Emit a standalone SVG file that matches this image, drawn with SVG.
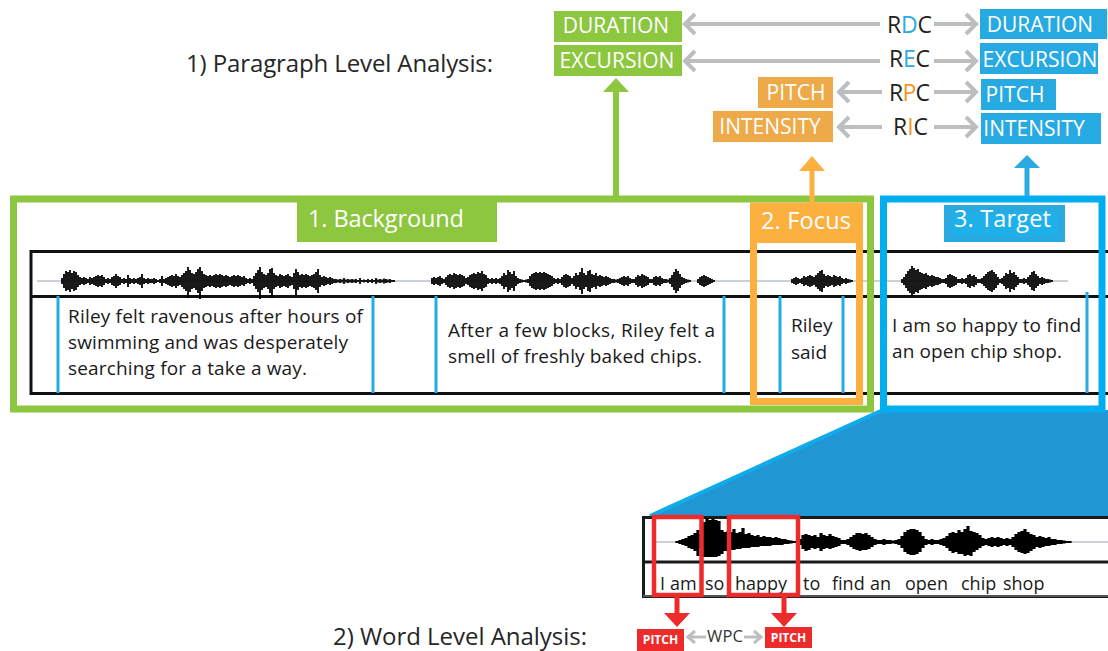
<svg xmlns="http://www.w3.org/2000/svg" width="1108" height="651" viewBox="0 0 1108 651">
<defs>
<style>
.f{font-family:"Open Sans","Noto Sans","DejaVu Sans",sans-serif}
.lbl{font-family:"Open Sans","Noto Sans","DejaVu Sans",sans-serif;fill:#fff;font-size:21px;text-anchor:middle}
.hdr{font-family:"Open Sans","Noto Sans","DejaVu Sans",sans-serif;fill:#fff;font-size:23.5px}
.body{font-family:"Open Sans","Noto Sans","DejaVu Sans",sans-serif;fill:#1a1a1a;font-size:19px}
.zw{font-family:"Open Sans","Noto Sans","DejaVu Sans",sans-serif;fill:#1a1a1a;font-size:18px}
.ttl{font-family:"Open Sans","Noto Sans","DejaVu Sans",sans-serif;fill:#262626;font-size:24px}
.cl{font-family:"Open Sans","Noto Sans","DejaVu Sans",sans-serif;fill:#231f20;font-size:23px}
.gl{stroke:#bcbec0;stroke-width:4;fill:none}
.gs{stroke:#bcbec0;stroke-width:3;fill:none}
.green{fill:#8dc63f}.orange{fill:#eea948}.blue{fill:#27aae1}
.wv{stroke:#000;stroke-width:1.8;fill:none}
.wz{stroke:#000;stroke-width:3.2;fill:none}
.div{stroke:#29abe2;stroke-width:3}
.blk{stroke:#111;stroke-width:3;fill:none}
.red{fill:#ee2b2b}
</style>
<marker id="chev" markerUnits="userSpaceOnUse" markerWidth="16" markerHeight="26" viewBox="0 0 16 26" refX="12" refY="12" orient="auto" overflow="visible">
<path d="M1,2 L11,12 L1,22" fill="none" stroke="#bcbec0" stroke-width="4"/>
</marker>
<marker id="chevs" markerUnits="userSpaceOnUse" markerWidth="12" markerHeight="16" viewBox="0 0 12 16" refX="9" refY="7" orient="auto" overflow="visible">
<path d="M1,1 L8,7 L1,13" fill="none" stroke="#bcbec0" stroke-width="3"/>
</marker>
</defs>
<rect width="1108" height="651" fill="#fff"/>

<g id="title-paragraph"><text class="ttl" x="186" y="72" textLength="307">1) Paragraph Level Analysis:</text></g>
<g id="title-word"><text class="ttl" x="333" y="645" textLength="254">2) Word Level Analysis:</text></g>

<g id="bg-duration"><rect class="green" x="554" y="11" width="128" height="31"/><text class="lbl" x="616" y="33">DURATION</text></g>
<g id="bg-excursion"><rect class="green" x="554" y="45" width="128" height="31"/><text class="lbl" x="617" y="68">EXCURSION</text></g>
<g id="focus-pitch"><rect class="orange" x="758" y="77" width="75" height="31"/><text class="lbl" x="796" y="100">PITCH</text></g>
<g id="focus-intensity"><rect class="orange" x="713" y="111" width="120" height="31"/><text class="lbl" x="770" y="134">INTENSITY</text></g>
<g id="target-duration"><rect class="blue" x="980" y="9" width="127" height="30"/><text class="lbl" x="1040" y="32">DURATION</text></g>
<g id="target-excursion"><rect class="blue" x="980" y="43" width="118" height="31"/><text class="lbl" x="1040" y="67">EXCURSION</text></g>
<g id="target-pitch"><rect class="blue" x="981" y="79" width="75" height="31"/><text class="lbl" x="1015" y="102">PITCH</text></g>
<g id="target-intensity"><rect class="blue" x="981" y="113" width="120" height="31"/><text class="lbl" x="1034" y="136">INTENSITY</text></g>

<g id="waveform-strip">
<line x1="31" y1="251.5" x2="1108" y2="251.5" class="blk"/>
<line x1="31" y1="296.5" x2="1108" y2="296.5" class="blk"/>
<line x1="31" y1="393.5" x2="1108" y2="393.5" class="blk" stroke-width="3.5"/>
<line x1="31" y1="250" x2="31" y2="395" class="blk"/>
<line x1="37" y1="281" x2="1068" y2="281" stroke="#7d8c99" stroke-width="0.8"/>
<g transform="translate(0,281)">
<path class="wv" d="M62-3v6M64-7v14M66-10v20M68-9v18M70-11v22M72-8v16M74-10v20M76-9v18M78-6v12M80-4v8M82-3v6M84-4v8M86-3v6M88-2v4M90-4v8M92-3v6M94-4v8M96-5v10M98-6v12M100-5v10M102-6v12M104-4v8M106-2v4M108-3v6M110-2v4M112-4v8M114-5v10M116-7v14M118-5v10M120-4v8M122-2v4M124-3v6M126-2v4M128-6v12M130-3v6M132-2v4M134-3v6M136-2v4M138-3v6M140-4v8M142-7v14M144-3v6M146-2v4M148-3v6M150-2v4M152-2v4M154-3v6M156-2v4M158-1v2M160-2v4M162-5v10M164-2v4M166-3v6M168-4v8M170-5v10M172-6v12M174-5v10M176-7v14M178-5v10M180-4v8M182-6v12M184-8v16M186-10v20M188-14v31M190-11v22M192-8v16M194-7v14M196-9v18M198-12v24M200-14v32M202-10v20M204-7v14M206-6v12M208-5v10M210-6v12M212-5v10M214-6v12M216-7v14M218-6v12M220-7v14M222-6v12M224-5v10M226-6v12M228-5v10M230-4v8M232-5v10M234-6v12M236-5v10M238-6v12M240-5v10M242-4v8M244-5v10M246-3v6M248-2v4M250-3v6M252-2v4M254-5v10M256-8v16M258-11v22M260-14v32M262-9v18M264-7v14M266-6v12M268-8v16M270-12v24M272-13v30M274-8v16M276-6v12M278-5v10M280-7v14M282-6v12M284-5v10M286-6v12M288-7v14M290-5v10M292-4v8M294-8v16M296-12v26M298-9v18M300-6v12M302-7v14M304-6v12M306-7v14M308-6v12M310-5v10M312-6v12M314-7v14M316-9v18M318-12v24M320-6v12M322-4v8M324-5v10M326-4v8M328-3v6M330-4v8M332-3v6M334-2v4M336-2v4M338-1.5v3M340-2v4M342-1.5v3M344-3v6M346-1.5v3M348-2v4M350-1.5v3M352-2v4M354-1.5v3M356-2v4M358-1v2M360-3v6M362-1v2M364-1.5v3M366-1v2M368-2v4M370-1v2M372-2v4M374-1v2M376-3v6M378-1.5v3M380-2v4M382-1.5v3M384-2.5v5M386-2v4M388-1.5v3M390-2v4M392-1v2M394-1v2"/>
<path class="wv" d="M432-3v6M434-4v8M436-3v6M438-4v8M440-5v10M442-3v6M444-2v4M446-4v8M448-6v12M450-7v14M452-6v12M454-8v16M456-7v14M458-6v12M460-7v14M462-6v12M464-5v10M466-3v6M468-4v8M470-6v12M472-7v14M474-8v16M476-7v14M478-9v18M480-8v16M482-10v20M484-7v14M486-6v12M488-3v6M490-2v4M492-3v6M494-2v4M496-3v6M498-2v4M500-3v6M502-5v10M504-8v16M506-6v12M508-11v22M510-9v18M512-7v14M514-10v20M516-5v10M518-3v6M520-2v4M522-1.5v3M524-1v2M526-1.5v3M528-2v4M530-5v10M532-7v14M534-8v16M536-9v18M538-8v16M540-9v18M542-8v16M544-9v18M546-8v16M548-7v14M550-6v12M552-5v10M554-3v6M556-2v4M558-3v6M560-2v4M562-4v8M564-6v12M566-7v14M568-6v12M570-5v10M572-3v6M574-5v10M576-8v16M578-6v12M580-9v18M582-13v26M584-8v16M586-6v12M588-10v20M590-11v22M592-7v14M594-6v12M596-8v16M598-5v10M600-6v12M602-5v10M604-4v8M606-5v10M608-4v8M610-3v6M612-2v4M614-2v4M616-1.5v3M618-2v4M620-3v6M622-4v8M624-5v10M626-4v8M628-5v10M630-3v6M632-2v4M634-2v4M636-4v8M638-6v12M640-5v10M642-7v14M644-6v12M646-5v10M648-4v8M650-2v4M652-2v4M654-4v8M656-5v10M658-4v8M660-5v10M662-3v6M664-2v4M666-2v4M668-1.5v3M670-3v6M672-6v12M674-9v18M676-12v24M678-10v20M680-7v14M682-4v8M684-3v6M686-2v4M688-1.5v3M690-1v2M698-2v4M700-4v8M702-5v10M704-6v12M706-5v10M708-4v8M710-3v6M712-2v4M714-1v2"/>
<path class="wv" d="M792-2v4M794-3v6M796-4v8M798-3v6M800-2v4M802-3v6M804-5v10M806-4v8M808-5v10M810-6v12M812-5v10M814-4v8M816-6v12M818-8v16M820-10v20M822-11v22M824-7v14M826-5v10M828-6v12M830-5v10M832-4v8M834-6v12M836-5v10M838-4v8M840-5v10M842-3v6M844-2v4M846-3v6M848-2v4M850-1.5v3M852-1v2"/>
<path class="wv" d="M902-2v4M904-4v8M906-7v14M908-10v20M910-12v24M912-15v30M914-13v26M916-11v22M918-12v24M920-9v18M922-8v16M924-7v14M926-8v16M928-6v12M930-5v10M932-6v12M934-5v10M936-4v8M938-4v8M940-3v6M942-2v4M944-2v4M946-3v6M948-6v12M950-7v14M952-6v12M954-5v10M956-4v8M958-2v4M960-2v4M962-3v6M964-2v4M966-3v6M968-6v12M970-7v14M972-5v10M974-6v12M976-4v8M978-2v4M980-2v4M982-3v6M984-5v10M986-7v14M988-9v18M990-10v20M992-11v22M994-9v18M996-7v14M998-4v8M1000-2v4M1002-3v6M1004-5v10M1006-8v16M1008-7v14M1010-11v22M1012-8v16M1014-9v18M1016-6v12M1018-4v8M1020-2v4M1022-2v4M1024-3v6M1026-2v4M1028-4v8M1030-6v12M1032-9v18M1034-10v20M1036-7v14M1038-5v10M1040-3v6M1042-4v8M1044-3v6M1046-2v4M1048-2v4M1050-1.5v3M1052-1v2"/>
</g>
<line class="div" x1="58" y1="296" x2="58" y2="393"/>
<line class="div" x1="373" y1="296" x2="373" y2="393"/>
<line class="div" x1="436" y1="296" x2="436" y2="393"/>
<line class="div" x1="724" y1="296" x2="724" y2="393"/>
<line class="div" x1="780" y1="296" x2="780" y2="393"/>
<line class="div" x1="843" y1="296" x2="843" y2="393"/>
<line class="div" x1="1087" y1="292" x2="1087" y2="393"/>
<text class="body" x="68" y="323" textLength="295">Riley felt ravenous after hours of</text>
<text class="body" x="68" y="349" textLength="280">swimming and was desperately</text>
<text class="body" x="68" y="375" textLength="239">searching for a take a way.</text>
<text class="body" x="448" y="337" textLength="267">After a few blocks, Riley felt a</text>
<text class="body" x="448" y="363" textLength="254">smell of freshly baked chips.</text>
<text class="body" x="791" y="332">Riley</text>
<text class="body" x="791" y="359">said</text>
<text class="body" x="892" y="332" textLength="189">I am so happy to find</text>
<text class="body" x="892" y="358" textLength="170">an open chip shop.</text>
</g>

<g id="background-frame">
<rect x="13.5" y="199" width="857" height="210" fill="none" stroke="#8dc63f" stroke-width="7"/>
<rect class="green" x="297" y="201" width="200" height="41"/>
<text class="hdr" x="308" y="227" textLength="156">1. Background</text>
</g>

<g id="focus-frame">
<rect x="753.5" y="206" width="106" height="195.5" fill="none" stroke="#fbb040" stroke-width="7"/>
<rect x="750" y="203" width="113" height="40" fill="#fbb040"/>
<text class="hdr" x="761" y="229" textLength="90">2. Focus</text>
</g>

<g id="zoom-view">
<polygon points="883,410 1108,410 1108,516 650,516" fill="#2097d3"/>
<line x1="883" y1="410" x2="650" y2="516" stroke="#10abea" stroke-width="4"/>
<rect x="643.5" y="517.5" width="470" height="79" fill="#fff" stroke="#1a1a1a" stroke-width="3"/>
<line x1="643" y1="596" x2="1108" y2="596" stroke="#555" stroke-width="2"/>
<line x1="643" y1="562" x2="1108" y2="562" stroke="#1a1a1a" stroke-width="3"/>
<line x1="653" y1="542" x2="1108" y2="542" stroke="#7d8c99" stroke-width="0.8"/>
<g transform="translate(0,542)">
<path class="wz" d="M677-1v2M680-2v4M683-3v6M686-4v8M689-6v12M692-7v14M695-9v18M698-12v26M701-8v14M704-20v35M707-24v39M710-22v37M713-23v38M716-22v37M719-21v35M722-12v24M725-10v19M728-11v20M731-10v18M734-13v21M737-9v16M740-10v17M743-14v20M746-8v14M749-9v15M752-7v12M755-6v11M758-7v12M761-5v9M764-6v10M767-5v9M770-5v9M773-4v7M776-5v8M779-4v7M782-3v6M785-3v5M788-2v4M791-1.5v3M794-1v2M797-1v2M800-3v6M803-7v14M806-8v17M809-7v15M812-6v12M815-7v14M818-5v11M821-9v18M824-7v14M827-6v12M830-8v15M833-6v12M836-5v10M839-4v8M842-2v4M845-2v4M848-3v6M851-5v10M854-7v14M857-9v17M860-9v18M863-8v16M866-9v17M869-7v14M872-5v10M875-3v6M878-2v4M881-2v4M884-3v6M887-2v4M890-2v4M893-1.5v3M896-2v4M899-3v6M902-6v12M905-10v20M908-12v24M911-13v26M914-13v26M917-12v24M920-10v20M923-6v12M926-3v6M929-2v4M932-3v6M935-2v4M938-2v4M941-3v6M944-4v8M947-6v12M950-9v18M953-10v21M956-9v19M959-12v24M962-10v22M965-13v27M968-16v29M971-11v25M974-10v20M977-9v17M980-7v13M983-4v8M986-3v6M989-4v8M992-5v10M995-4v8M998-5v10M1001-4v8M1004-3v6M1007-4v8M1010-3v6M1013-5v10M1016-8v16M1019-10v20M1022-11v22M1025-13v25M1028-10v21M1031-8v17M1034-7v14M1037-5v10M1040-6v12M1043-5v10M1046-4v8M1049-5v9M1052-3v6M1055-3v6M1058-2v4M1061-2v4M1064-1.5v3M1067-1v2M1070-1v2"/>
</g>
<text class="zw" x="660" y="590">I</text>
<text class="zw" x="670" y="590">am</text>
<text class="zw" x="705" y="590">so</text>
<text class="zw" x="735" y="590">happy</text>
<text class="zw" x="803" y="590">to</text>
<text class="zw" x="832" y="590">find</text>
<text class="zw" x="870" y="590">an</text>
<text class="zw" x="905" y="590">open</text>
<text class="zw" x="961" y="590">chip</text>
<text class="zw" x="1003" y="590">shop</text>
<rect x="654" y="517" width="47.5" height="78" fill="none" stroke="#ee2b2b" stroke-width="4.5"/>
<rect x="729" y="517" width="69" height="78" fill="none" stroke="#ee2b2b" stroke-width="4.5"/>
</g>

<g id="target-frame">
<rect x="883.5" y="199" width="218.5" height="210" fill="none" stroke="#00aeef" stroke-width="7"/>
<rect x="944" y="205" width="121" height="37" fill="#29a9e0"/>
<rect x="952" y="212" width="106" height="25" fill="#1fb0ea"/>
<text class="hdr" x="954" y="227" textLength="97">3. Target</text>
</g>

<g id="word-pitch-1"><rect class="red" x="637" y="629" width="47" height="22"/><text class="f" x="660.5" y="644" fill="#fff" font-size="12" font-weight="bold" text-anchor="middle">PITCH</text></g>
<g id="word-pitch-2"><rect class="red" x="765" y="627" width="47" height="21"/><text class="f" x="788.5" y="642" fill="#fff" font-size="12" font-weight="bold" text-anchor="middle">PITCH</text></g>

<g id="connectors">
<line class="gl" x1="880" y1="24" x2="684" y2="24" marker-end="url(#chev)"/>
<line class="gl" x1="934" y1="24" x2="977" y2="24" marker-end="url(#chev)"/>
<line class="gl" x1="880" y1="61" x2="684" y2="61" marker-end="url(#chev)"/>
<line class="gl" x1="934" y1="61" x2="977" y2="61" marker-end="url(#chev)"/>
<line class="gl" x1="882" y1="92" x2="838" y2="92" marker-end="url(#chev)"/>
<line class="gl" x1="934" y1="92" x2="977" y2="92" marker-end="url(#chev)"/>
<line class="gl" x1="882" y1="127" x2="838" y2="127" marker-end="url(#chev)"/>
<line class="gl" x1="934" y1="127" x2="977" y2="127" marker-end="url(#chev)"/>
<text class="cl" x="887" y="33" textLength="45"><tspan>R</tspan><tspan fill="#29abe2">D</tspan><tspan>C</tspan></text>
<text class="cl" x="889" y="67" textLength="41"><tspan>R</tspan><tspan fill="#29abe2">E</tspan><tspan>C</tspan></text>
<text class="cl" x="889" y="101" textLength="41"><tspan>R</tspan><tspan fill="#f7941d">P</tspan><tspan>C</tspan></text>
<text class="cl" x="893" y="135" textLength="35"><tspan>R</tspan><tspan fill="#f7941d">I</tspan><tspan>C</tspan></text>
<rect x="613" y="91" width="6" height="106" fill="#8dc63f"/>
<polygon points="603,92 629,92 616,78" fill="#8dc63f"/>
<rect x="809.5" y="170" width="5" height="34" fill="#fbb040"/>
<polygon points="799,171 825,171 812,156" fill="#fbb040"/>
<rect x="1024.5" y="167" width="5" height="29" fill="#29abe2"/>
<polygon points="1014,168 1040,168 1027,155" fill="#29abe2"/>
<rect x="674.5" y="597" width="5" height="17" fill="#ee2b2b"/>
<polygon points="664,613 690,613 677,627" fill="#ee2b2b"/>
<rect x="781.5" y="597" width="5" height="17" fill="#ee2b2b"/>
<polygon points="771,613 797,613 784,627" fill="#ee2b2b"/>
<line class="gs" x1="706" y1="637" x2="687" y2="637" marker-end="url(#chevs)"/>
<line class="gs" x1="744" y1="637" x2="762" y2="637" marker-end="url(#chevs)"/>
<text class="f" x="707" y="642" fill="#333" font-size="16.5" textLength="36">WPC</text>
</g>
</svg>
